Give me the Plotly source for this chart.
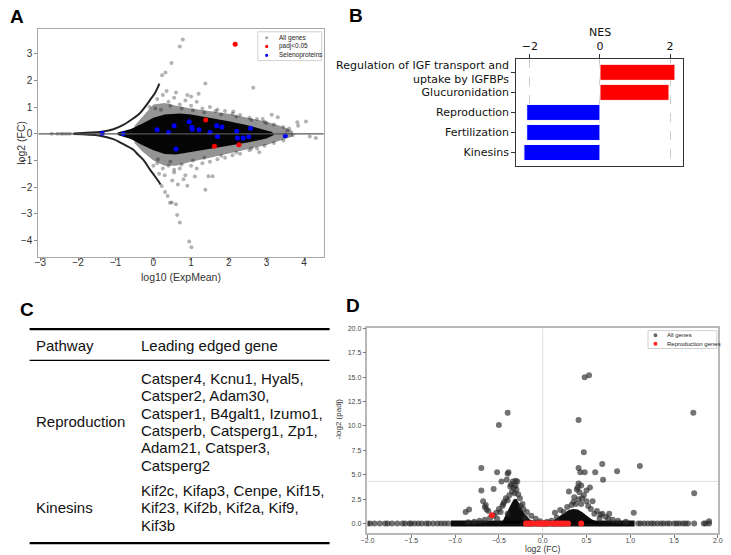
import math
import plotly.graph_objects as go

W, H = 731, 555
def px(x): return x / W
def py(y): return 1 - y / H

# ---------------- Panel A data (MA plot) ----------------
a_curve_up_x = [-2.12, -1.77, -1.42, -1.06, -0.80, -0.53, -0.36, -0.09, 0.05, 0.16]
a_curve_up_y = [0.01, 0.04, 0.07, 0.17, 0.33, 0.58, 0.77, 1.26, 1.55, 1.88]
a_curve_dn_x = [-2.12, -1.42, -1.06, -0.85, -0.53, -0.45, -0.27, -0.09, 0.04, 0.13, 0.19]
a_curve_dn_y = [-0.01, -0.07, -0.20, -0.35, -0.60, -0.72, -0.97, -1.34, -1.59, -1.77, -1.90]

a_core_x = [-0.95, -0.6, -0.3, 0.0, 0.3, 0.7, 1.0, 1.5, 2.0, 2.5, 2.9, 3.15, 3.2,
            3.0, 2.5, 2.0, 1.5, 1.0, 0.6, 0.3, 0.0, -0.3, -0.6, -0.95]
a_core_y = [0.05, 0.18, 0.38, 0.6, 0.72, 0.76, 0.72, 0.60, 0.47, 0.32, 0.18, 0.07, -0.05,
            -0.18, -0.33, -0.45, -0.57, -0.70, -0.78, -0.76, -0.62, -0.42, -0.20, -0.05]
a_halo_x = [-0.5, -0.2, 0.0, 0.3, 0.6, 1.0, 1.5, 2.0, 2.5, 3.0, 3.4, 3.7, 3.7,
            3.4, 3.0, 2.5, 2.0, 1.5, 1.0, 0.6, 0.3, 0.0, -0.3, -0.5]
a_halo_y = [0.3, 0.8, 1.1, 1.15, 1.05, 0.95, 0.85, 0.75, 0.6, 0.45, 0.28, 0.1, -0.1,
            -0.25, -0.42, -0.58, -0.75, -0.9, -1.05, -1.2, -1.2, -1.0, -0.65, -0.35]

a_gray_x = [0.78, 0.70, 0.48, 0.32, 0.23, 1.38, 2.65, 2.12, 3.14, 4.05, 3.82, 3.84, 4.15, 4.31,
            1.46, 1.57, 1.38, 2.81, 0.60, 0.63, 0.70, 0.95, 1.01, 0.38, 0.44, 0.22, 0.31, 0.49,
            0.10, 0.25, 0.40, 0.55, 0.70, 0.85, 1.00, 1.15, 1.30, 1.50, 1.70, 1.90, 2.10, 2.30,
            2.55, 2.75, 2.95, 3.20, 3.45, 3.60, 0.35, 0.60, 0.90, 1.20, -0.10, 0.05, 0.20, 1.65,
            3.30, 2.90, 0.10, 0.25, 0.40, 0.55, 0.70, 0.85, 1.00, 1.15, 1.30, 1.50, 1.70, 1.90,
            2.10, 2.30, 2.55, 2.75, 2.95, 3.20, 3.45, 0.30, 0.50, 0.65, 0.80, 0.90, 1.10, 0.15,
            0.00, -2.70, -2.55, -2.45, -2.38, -2.30, -2.22,
            0.45, 0.75, 1.05, 1.35, 1.80, 2.20, 2.60, 3.00, 0.45, 0.75, 1.05, 1.35, 1.80, 2.20, 2.60,
            3.55, 3.70, 1.00, 0.12, 0.55]
a_gray_y = [3.53, 3.27, 2.65, 2.29, 2.19, 1.88, 1.72, 0.83, 0.71, 0.46, 0.43, 0.30, -0.10, -0.16,
            -1.59, -1.59, -2.10, -0.69, -2.64, -3.04, -3.32, -4.03, -4.25, -2.33, -2.58, -1.96, -2.18, -2.57,
            1.30, 1.45, 1.20, 1.35, 1.10, 1.25, 1.05, 1.20, 0.95, 1.00, 0.90, 0.85, 0.75, 0.70,
            0.60, 0.55, 0.45, 0.35, 0.25, 0.20, 1.60, 1.55, 1.45, 1.50, 1.00, 0.95, 0.90, 0.85,
            0.62, 0.55, -1.10, -1.30, -1.20, -1.45, -1.30, -1.55, -1.20, -1.30, -1.10, -1.05, -0.95, -0.90,
            -0.80, -0.75, -0.62, -0.55, -0.45, -0.35, -0.25, -1.55, -1.75, -1.90, -1.70, -1.95, -1.60, -1.50,
            -1.20, 0.0, 0.0, 0.0, 0.0, 0.0, 0.0,
            1.05, 0.95, 0.88, 0.80, 0.72, 0.65, 0.52, 0.40, -1.05, -1.15, -1.00, -0.90, -0.82, -0.70, -0.55,
            0.12, -0.05, 1.40, -0.95, -1.35]

a_red_x = [1.39, 1.62, 2.27, 2.17]
a_red_y = [0.52, -0.47, -0.41, 3.35]

a_blue_x = [-1.36, -0.80, 0.10, 0.40, 0.55, 0.60, 0.95, 1.02, 1.03, 1.21, 1.50, 1.68, 1.70,
            1.82, 2.21, 2.23, 2.38, 2.53, 2.58, 3.50]
a_blue_y = [0.02, 0.00, 0.15, 0.05, 0.30, -0.57, 0.45, 0.24, 0.17, 0.15, 0.05, 0.30, -0.10,
            0.25, 0.09, -0.16, -0.16, -0.11, 0.21, -0.07]

a_xticks = [-3, -2, -1, 0, 1, 2, 3, 4]
a_yticks = [-4, -3, -2, -1, 0, 1, 2, 3]
a_legend = ["All genes", "padj<0.05", "Selenoproteins"]

# ---------------- Panel B data (NES) ----------------
b_pathways = ["Regulation of IGF transport and<br>uptake by IGFBPs", "Glucuronidation",
              "Reproduction", "Fertilization", "Kinesins"]
b_nes = [2.14, 1.97, -2.09, -2.09, -2.17]
b_colors = ["#ff0000", "#ff0000", "#0000ff", "#0000ff", "#0000ff"]
b_xticks = [-2, 0, 2]

# ---------------- Panel C data (table) ----------------
c_header = ["Pathway", "Leading edged gene"]
c_rows = [
    ("Reproduction", ["Catsper4, Kcnu1, Hyal5,", "Catsper2, Adam30,", "Catsper1, B4galt1, Izumo1,",
                      "Catsperb, Catsperg1, Zp1,", "Adam21, Catsper3,", "Catsperg2"]),
    ("Kinesins", ["Kif2c, Kifap3, Cenpe, Kif15,", "Kif23, Kif2b, Kif2a, Kif9,", "Kif3b"]),
]

# ---------------- Panel D data (volcano) ----------------
d_base_core_x = [-1.05, 1.05]
d_base_core_y = [0, 0]
d_left_core_x = [-0.47, -0.44, -0.40, -0.36, -0.33, -0.30, -0.27, -0.24, -0.20, -0.15, -0.10, -0.06]
d_left_core_y = [0, 0.6, 1.3, 2.0, 2.5, 2.55, 2.1, 1.5, 0.9, 0.45, 0.2, 0]
d_right_core_x = [0.09, 0.13, 0.19, 0.25, 0.30, 0.35, 0.40, 0.45, 0.50, 0.55, 0.61, 0.68]
d_right_core_y = [0, 0.35, 0.75, 1.1, 1.4, 1.5, 1.45, 1.2, 0.85, 0.5, 0.22, 0]

d_gray_x = [0.48, 0.53, -0.40, -0.50, 0.41, 1.72, 0.47, -0.70, -0.52, -0.39, -0.40, -0.47, -0.41,
            0.41, 0.43, 0.48, 0.60, 0.68, 0.85, 1.11, 0.69, 1.73, 1.04, -0.70, -0.56, -0.68, -0.65,
            -0.84, -0.88, -0.64,
            -0.34, -0.31, -0.29, -0.36, -0.33, -0.30, -0.35, -0.32, -0.38, -0.28, -0.42, -0.26, -0.44,
            -0.40, -0.23, -0.46, -0.50, -0.22, -0.53, -0.18, -0.56, -0.60, -0.13, -0.08, -0.66, -0.72,
            -0.78, -0.85, -0.03, -0.37, -0.31, -0.45, -0.48, -0.52, -0.40, -0.25, -0.20, -0.66, -0.62,
            0.30, 0.41, 0.44, 0.39, 0.50, 0.54, 0.47, 0.41, 0.50, 0.57, 0.59, 0.68, 0.76, 0.65, 0.75,
            0.14, 0.24, 0.10, 0.35, 0.38, 0.44, 0.33, 0.28, 0.20, 0.52, 0.55, 0.62, 0.66, 0.72, 0.80,
            0.86, 0.95, 0.05, 0.16, 0.36, 0.42, 0.45, 0.40, 1.90,
            -2.00, -1.97, -1.92, -1.86, -1.80, -1.77, -1.72, -1.66, -1.60, -1.57, -1.52, -1.50, -1.46,
            -1.42, -1.38, -1.33, -1.30, -1.25, -1.20, -1.16, -1.12, -1.08,
            1.09, 1.12, 1.16, 1.20, 1.24, 1.27, 1.31, 1.35, 1.38, 1.42, 1.45, 1.50, 1.53, 1.56, 1.60,
            1.63, 1.66, 1.73, 1.84, 1.86, 1.90]
d_gray_y = [15.0, 15.2, 11.35, 10.1, 10.6, 11.35, 7.3, 5.7, 5.25, 5.25, 5.1, 4.3, 4.5,
            5.7, 5.25, 5.25, 5.25, 6.1, 5.35, 5.9, 4.5, 3.1, 1.1, 3.4, 3.55, 2.3, 1.9,
            1.45, 1.2, 1.45,
            4.3, 4.4, 4.3, 4.0, 3.7, 3.5, 3.3, 3.1, 2.9, 3.0, 2.6, 2.6, 2.2,
            2.4, 2.0, 1.8, 1.5, 1.5, 1.1, 1.2, 0.8, 0.6, 0.8, 0.5, 0.4, 0.3,
            0.2, 0.15, 0.25, 3.8, 3.9, 2.0, 1.2, 0.5, 1.0, 1.8, 0.6, 1.7, 1.3,
            3.3, 4.1, 3.9, 3.5, 3.4, 3.7, 2.9, 2.5, 2.3, 2.3, 1.0, 1.0, 1.0, 0.55, 0.5,
            1.1, 1.2, 0.3, 2.2, 2.0, 2.0, 1.9, 1.7, 1.4, 1.8, 1.5, 1.3, 0.9, 0.7, 0.4,
            0.3, 0.2, 0.2, 0.6, 2.7, 3.2, 2.6, 3.7, 0.25,
            0, 0, 0, 0, 0, 0, 0, 0, 0, 0, 0, 0, 0,
            0, 0, 0, 0, 0, 0, 0, 0, 0,
            0, 0, 0, 0, 0, 0, 0, 0, 0, 0, 0, 0, 0, 0, 0,
            0, 0, 0, 0, 0, 0]

d_red_x = [-0.19, -0.17, -0.15, -0.13, -0.11, -0.06, -0.04, -0.02, 0.00, 0.02, 0.04, 0.06,
           0.11, 0.13, 0.16, 0.18, 0.21, 0.23, 0.26, 0.29, 0.44, -0.58]
d_red_y = [0, 0, 0, 0, 0, 0, 0, 0, 0, 0, 0, 0,
           0, 0, 0, 0, 0, 0, 0, 0, 0, 0.85]
d_padj_cut = 0.05
d_xticks = [-2.0, -1.5, -1.0, -0.5, 0.0, 0.5, 1.0, 1.5, 2.0]
d_yticks = [0.0, 2.5, 5.0, 7.5, 10.0, 12.5, 15.0, 17.5, 20.0]
d_legend = ["All genes", "Reproduction genes"]

d_thresh = -math.log2(d_padj_cut)

# ---------------- Figure ----------------
fig = go.Figure()
ARIAL = "Liberation Sans, Arial, sans-serif"
DEJAVU = "DejaVu Sans, sans-serif"
A_GRAY = "rgba(0,0,0,0.3)"
D_GRAY = "rgba(40,40,40,0.65)"

# Panel A
fig.add_trace(go.Scatter(x=a_halo_x, y=a_halo_y, fill="toself", mode="lines", line=dict(width=0),
                         fillcolor="rgba(0,0,0,0.42)", showlegend=False, hoverinfo="skip", xaxis="x", yaxis="y"))
fig.add_trace(go.Scatter(x=a_core_x, y=a_core_y, fill="toself", mode="lines", line=dict(width=0),
                         fillcolor="rgba(0,0,0,0.97)", showlegend=False, hoverinfo="skip", xaxis="x", yaxis="y"))
fig.add_trace(go.Scatter(x=a_curve_up_x, y=a_curve_up_y, mode="lines", line=dict(color="rgba(0,0,0,0.85)", width=2, shape="spline"),
                         showlegend=False, hoverinfo="skip", xaxis="x", yaxis="y"))
fig.add_trace(go.Scatter(x=a_curve_dn_x, y=a_curve_dn_y, mode="lines", line=dict(color="rgba(0,0,0,0.85)", width=2, shape="spline"),
                         showlegend=False, hoverinfo="skip", xaxis="x", yaxis="y"))
fig.add_trace(go.Scatter(x=a_gray_x, y=a_gray_y, mode="markers", name=a_legend[0],
                         marker=dict(color=A_GRAY, size=4), showlegend=False, xaxis="x", yaxis="y"))
fig.add_trace(go.Scatter(x=a_red_x, y=a_red_y, mode="markers", name=a_legend[1],
                         marker=dict(color="#ff0000", size=5), showlegend=False, xaxis="x", yaxis="y"))
fig.add_trace(go.Scatter(x=a_blue_x, y=a_blue_y, mode="markers", name=a_legend[2],
                         marker=dict(color="#0000ff", size=5), showlegend=False, xaxis="x", yaxis="y"))

# Panel B
fig.add_trace(go.Bar(x=b_nes, y=list(range(len(b_pathways))), orientation="h", width=0.8,
                     marker=dict(color=b_colors, line=dict(color="white", width=1)),
                     showlegend=False, xaxis="x2", yaxis="y2"))

# Panel D
fig.add_trace(go.Scatter(x=d_base_core_x, y=d_base_core_y, mode="lines", line=dict(color="rgba(0,0,0,0.95)", width=6),
                         showlegend=False, hoverinfo="skip", xaxis="x3", yaxis="y3"))
fig.add_trace(go.Scatter(x=d_left_core_x, y=d_left_core_y, fill="toself", mode="lines", line=dict(width=0),
                         fillcolor="rgba(0,0,0,0.95)", showlegend=False, hoverinfo="skip", xaxis="x3", yaxis="y3"))
fig.add_trace(go.Scatter(x=d_right_core_x, y=d_right_core_y, fill="toself", mode="lines", line=dict(width=0),
                         fillcolor="rgba(0,0,0,0.95)", showlegend=False, hoverinfo="skip", xaxis="x3", yaxis="y3"))
fig.add_trace(go.Scatter(x=d_gray_x, y=d_gray_y, mode="markers", name=d_legend[0],
                         marker=dict(color=D_GRAY, size=6), showlegend=False, xaxis="x3", yaxis="y3"))
fig.add_trace(go.Scatter(x=d_red_x, y=d_red_y, mode="markers", name=d_legend[1],
                         marker=dict(color="#ff2020", size=6), showlegend=False, xaxis="x3", yaxis="y3"))

shapes = []
shapes.append(dict(type="line", xref="x domain", yref="y", x0=0, x1=1, y0=0, y1=0,
                   line=dict(color="#555555", width=1.3), layer="above"))
shapes.append(dict(type="line", xref="x3", yref="y3 domain", x0=0, x1=0, y0=0, y1=1,
                   line=dict(color="#dddddd", width=1), layer="below"))
shapes.append(dict(type="line", xref="x3 domain", yref="y3", x0=0, x1=1, y0=d_thresh, y1=d_thresh,
                   line=dict(color="#dddddd", width=1), layer="below"))
for yy, lw in [(327.5, 2.2), (359, 1.3), (543, 2.2)]:
    shapes.append(dict(type="line", xref="paper", yref="paper", x0=px(23), x1=px(328), y0=py(yy), y1=py(yy),
                       line=dict(color="black", width=lw)))

ann = []
def add_text(x, y, text, size, family=ARIAL, xanchor="center", yanchor="middle", bold=False, angle=0, color="#111"):
    ann.append(dict(x=px(x), y=py(y), xref="paper", yref="paper", text=(f"<b>{text}</b>" if bold else text),
                    showarrow=False, xanchor=xanchor, yanchor=yanchor, textangle=angle,
                    font=dict(size=size, family=family, color=color)))

def add_legend(x0, y0, x1, y1, labels, colors, rows, mx, tx, msize, fsize):
    shapes.append(dict(type="rect", xref="paper", yref="paper", x0=px(x0), x1=px(x1), y0=py(y0), y1=py(y1),
                       line=dict(color="#d0d0d0", width=1), fillcolor="white", layer="above"))
    for lab, col, ry in zip(labels, colors, rows):
        shapes.append(dict(type="circle", xref="paper", yref="paper", x0=px(mx - msize / 2), x1=px(mx + msize / 2),
                           y0=py(ry + msize / 2), y1=py(ry - msize / 2), line=dict(width=0), fillcolor=col, layer="above"))
        add_text(tx, ry, lab, fsize, xanchor="left", color="#222")

add_legend(255, 28, 320, 57, a_legend, ["rgba(0,0,0,0.35)", "#ff0000", "#0000ff"], [34, 42.7, 51.7], 264, 274, 3.2, 6.5)
add_legend(651.7, 329, 721.7, 347, d_legend, ["rgba(40,40,40,0.7)", "#ff2020"], [333.7, 342.2], 659.3, 668.5, 4, 6)

add_text(10, 13, "A", 19, bold=True, color="black")
add_text(355, 12, "B", 19, bold=True, color="black")
add_text(20, 308, "C", 19, bold=True, color="black")
add_text(352, 304, "D", 19, bold=True, color="black")
add_text(177, 275, "log10 (ExpMean)", 10.5, color="#333")
add_text(14, 140, "log2 (FC)", 10.5, angle=-90, color="#333")
add_text(603, 29, "NES", 11, family=DEJAVU, color="#111")
add_text(545, 549, "log2 (FC)", 8.5, color="#333")
add_text(338, 418, "-log2 (padj)", 8, angle=-90, color="#333")
add_text(27, 344, c_header[0], 15, xanchor="left")
add_text(134, 344, c_header[1], 15, xanchor="left")
row_start = [377, 490]
spacing = 17.5
for (name, lines), y0 in zip(c_rows, row_start):
    for i, line in enumerate(lines):
        add_text(134, y0 + i * spacing, line, 15, xanchor="left")
    add_text(27, y0 + (len(lines) - 1) * spacing / 2, name, 15, xanchor="left")

fig.update_layout(
    width=W, height=H, autosize=False, margin=dict(l=0, r=0, t=0, b=0),
    paper_bgcolor="white", plot_bgcolor="white", showlegend=False,
    shapes=shapes, annotations=ann,
    xaxis=dict(domain=[px(32), px(322)], range=[-3.05, 4.52], tickvals=a_xticks, anchor="y",
               showline=True, mirror=True, linecolor="#a8a8a8", linewidth=1.3, ticks="outside", ticklen=3,
               tickcolor="#888", tickfont=dict(size=10, family=ARIAL, color="#333"), showgrid=False, zeroline=False,
               ticklabelstandoff=-7),
    yaxis=dict(domain=[py(255), py(25)], range=[-4.62, 3.93], tickvals=a_yticks, anchor="x",
               showline=True, mirror=True, linecolor="#a8a8a8", linewidth=1.3, ticks="outside", ticklen=3,
               tickcolor="#888", tickfont=dict(size=10, family=ARIAL, color="#333"), showgrid=False, zeroline=False),
    xaxis2=dict(domain=[px(517.7), px(687.3)], range=[-2.39, 2.37], tickvals=b_xticks, anchor="y2", side="top",
                showline=True, mirror=True, linecolor="#333", linewidth=1, ticks="outside", ticklen=4, tickcolor="#333",
                tickfont=dict(size=11, family=DEJAVU, color="#111"), showgrid=True, gridcolor="#cccccc",
                griddash="dash", gridwidth=1, zeroline=False),
    yaxis2=dict(domain=[py(162.7), py(55.7)], range=[4.65, -0.65], tickvals=list(range(len(b_pathways))),
                ticktext=b_pathways, anchor="x2", showline=True, mirror=True, linecolor="#333", linewidth=1,
                ticks="outside", ticklen=4, tickcolor="#333", tickfont=dict(size=11, family=DEJAVU, color="#111"),
                showgrid=False, zeroline=False),
    xaxis3=dict(domain=[px(366.5), px(722.7)], range=[-2.0, 2.0], tickvals=d_xticks, tickformat=".1f", anchor="y3",
                showline=True, mirror=True, linecolor="#b8b8b8", linewidth=1.5, ticks="outside", ticklen=3,
                tickcolor="#777", tickfont=dict(size=7, family=ARIAL, color="#444"), showgrid=False, zeroline=False,
                ticklabelstandoff=-3),
    yaxis3=dict(domain=[py(532.7), py(326.7)], range=[-0.95, 20.0], tickvals=d_yticks, tickformat=".1f", anchor="x3",
                showline=True, mirror=True, linecolor="#b8b8b8", linewidth=1.5, ticks="outside", ticklen=3,
                tickcolor="#777", tickfont=dict(size=7, family=ARIAL, color="#444"), showgrid=False, zeroline=False),
)

fig.write_html("out.html", config={"responsive": False, "displayModeBar": False},
               post_script="document.body.style.margin='0px';document.body.style.overflow='hidden';")
